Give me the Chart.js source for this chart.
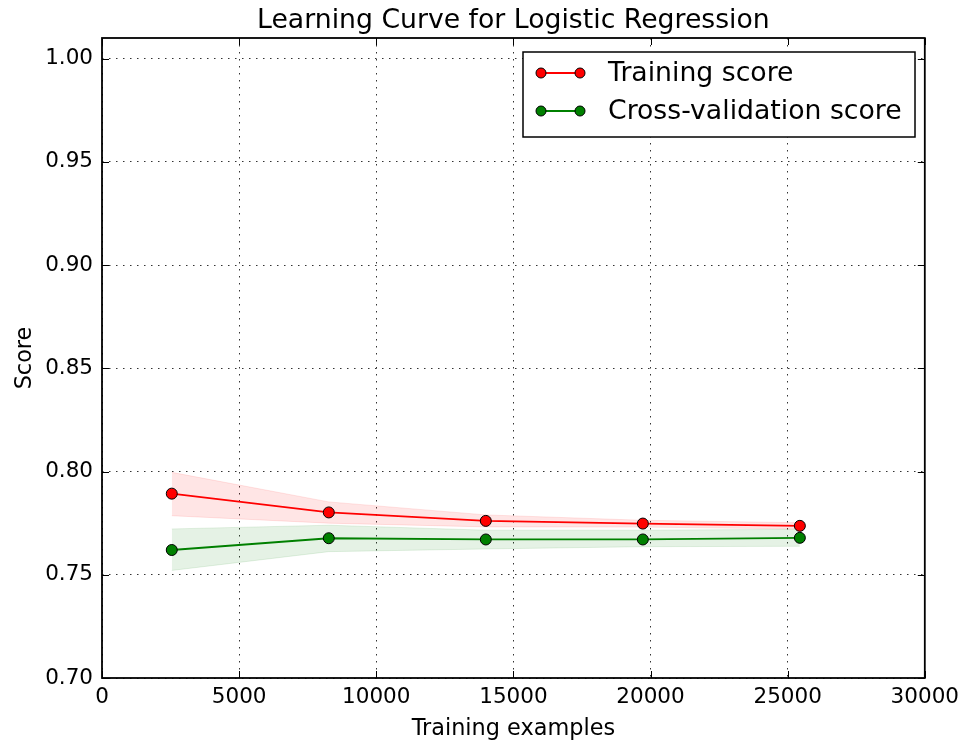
<!DOCTYPE html>
<html>
<head>
<meta charset="utf-8">
<title>Learning Curve for Logistic Regression</title>
<script src="https://cdn.jsdelivr.net/npm/chart.js@4.4.0/dist/chart.umd.min.js"></script>
<style>
  html, body { margin: 0; padding: 0; background: #fff; }
</style>
</head>
<body>
<canvas id="myChart" width="966" height="745"></canvas>
<script>
// training set sizes and scores (mean and mean ± std)
const trainSizes = [2544, 8269, 13994, 19719, 25444];
const trainMean  = [0.7893, 0.7802, 0.7761, 0.7748, 0.7737];
const trainUpper = [0.7996, 0.7853, 0.7790, 0.7764, 0.7752];
const trainLower = [0.7786, 0.7750, 0.7732, 0.7731, 0.7722];
const cvMean     = [0.7620, 0.7677, 0.7671, 0.7671, 0.7679];
const cvUpper    = [0.7722, 0.7740, 0.7716, 0.7716, 0.7720];
const cvLower    = [0.7521, 0.7612, 0.7625, 0.7636, 0.7638];

const xTicks = [0, 5000, 10000, 15000, 20000, 25000, 30000];
const yTicks = [0.70, 0.75, 0.80, 0.85, 0.90, 0.95, 1.00];

const FONT = "'DejaVu Sans', sans-serif";
const RED = '#ff0000';
const GREEN = '#008000';
const BIG = 26.7;   // title + legend
const TICK = 21.5;
const LABEL = 22.4;

const pts = ys => ys.map((y, i) => ({ x: trainSizes[i], y: y }));

function lineSet(label, ys, color) {
  return {
    label: label,
    data: pts(ys),
    borderColor: color,
    backgroundColor: color,
    borderWidth: 1.8,
    pointRadius: 5.5,
    pointBorderColor: '#000',
    pointBorderWidth: 1,
    pointBackgroundColor: color,
    fill: false,
    tension: 0
  };
}

function bandSet(ys, rgba, fill) {
  return {
    label: '',
    data: pts(ys),
    borderColor: rgba,
    backgroundColor: rgba,
    borderWidth: 1,
    pointRadius: 0,
    pointHoverRadius: 0,
    fill: fill,
    tension: 0,
    band: true
  };
}

// frame, inward ticks, title and legend in matplotlib style
const axesDecor = {
  id: 'axesDecor',
  afterDraw(chart) {
    const ctx = chart.ctx;
    const a = chart.chartArea;
    const xs = chart.scales.x, ys = chart.scales.y;
    const tl = 7;
    ctx.save();
    ctx.strokeStyle = '#000';
    ctx.lineWidth = 1;
    ctx.setLineDash([]);
    ctx.beginPath();
    xs.ticks.forEach(t => {
      const px = Math.round(xs.getPixelForValue(t.value)) + 0.5;
      ctx.moveTo(px, a.bottom); ctx.lineTo(px, a.bottom - tl);
      ctx.moveTo(px, a.top); ctx.lineTo(px, a.top + tl);
    });
    ys.ticks.forEach(t => {
      const py = Math.round(ys.getPixelForValue(t.value)) + 0.5;
      ctx.moveTo(a.left, py); ctx.lineTo(a.left + tl, py);
      ctx.moveTo(a.right, py); ctx.lineTo(a.right - tl, py);
    });
    ctx.stroke();

    ctx.lineWidth = 1.8;
    ctx.strokeRect(a.left, a.top, a.right - a.left, a.bottom - a.top);

    // title
    ctx.fillStyle = '#000';
    ctx.font = BIG + 'px ' + FONT;
    ctx.textAlign = 'center';
    ctx.textBaseline = 'alphabetic';
    ctx.fillText('Learning Curve for Logistic Regression', (a.left + a.right) / 2, 28);

    // legend
    const lx = 523, ly = 52, lw = 392, lh = 85;
    ctx.fillStyle = '#fff';
    ctx.fillRect(lx, ly, lw, lh);
    ctx.lineWidth = 1.5;
    ctx.strokeStyle = '#000';
    ctx.strokeRect(lx, ly, lw, lh);
    const entries = chart.data.datasets.filter(d => !d.band).reverse();
    entries.forEach((d, i) => {
      const cy = 73 + i * 38;
      ctx.strokeStyle = d.borderColor;
      ctx.lineWidth = 1.8;
      ctx.beginPath();
      ctx.moveTo(541, cy); ctx.lineTo(580, cy);
      ctx.stroke();
      [541, 580].forEach(cx => {
        ctx.beginPath();
        ctx.arc(cx, cy, 5, 0, Math.PI * 2);
        ctx.fillStyle = d.pointBackgroundColor;
        ctx.fill();
        ctx.lineWidth = 1;
        ctx.strokeStyle = '#000';
        ctx.stroke();
      });
      ctx.fillStyle = '#000';
      ctx.font = BIG + 'px ' + FONT;
      ctx.textAlign = 'left';
      ctx.textBaseline = 'middle';
      ctx.fillText(d.label, 608, cy + 1);
    });
    ctx.restore();
  }
};

const gridOpts = {
  color: '#333',
  lineWidth: 1,
  drawTicks: false
};

const config = {
  type: 'line',
  data: {
    datasets: [
      lineSet('Cross-validation score', cvMean, GREEN),
      lineSet('Training score', trainMean, RED),
      bandSet(cvLower, 'rgba(0,128,0,0.1)', false),
      bandSet(cvUpper, 'rgba(0,128,0,0.1)', '-1'),
      bandSet(trainLower, 'rgba(255,0,0,0.1)', false),
      bandSet(trainUpper, 'rgba(255,0,0,0.1)', '-1')
    ]
  },
  plugins: [axesDecor],
  options: {
    responsive: false,
    animation: false,
    events: [],
    layout: { padding: { left: 0, right: 40, top: 38, bottom: 0 } },
    plugins: {
      legend: { display: false },
      title: { display: false },
      tooltip: { enabled: false }
    },
    scales: {
      x: {
        type: 'linear',
        min: 0,
        max: 30000,
        afterBuildTicks: s => { s.ticks = xTicks.map(v => ({ value: v })); },
        afterFit: s => { s.height = 67; },
        grid: gridOpts,
        border: { display: false, dash: [1.5, 5.5] },
        ticks: {
          color: '#000',
          font: { family: FONT, size: TICK },
          padding: 7,
          maxRotation: 0,
          autoSkip: false,
          callback: v => String(v)
        },
        title: {
          display: true,
          text: 'Training examples',
          color: '#000',
          font: { family: FONT, size: LABEL },
          padding: { top: 0, bottom: 2 }
        }
      },
      y: {
        type: 'linear',
        min: 0.70,
        max: 1.01,
        afterBuildTicks: s => { s.ticks = yTicks.map(v => ({ value: v })); },
        afterFit: s => { s.width = 102; },
        grid: gridOpts,
        border: { display: false, dash: [1.5, 5.5] },
        ticks: {
          color: '#000',
          font: { family: FONT, size: TICK },
          padding: 9,
          autoSkip: false,
          callback: v => Number(v).toFixed(2)
        },
        title: {
          display: true,
          text: 'Score',
          color: '#000',
          font: { family: FONT, size: LABEL },
          padding: { top: 12, bottom: 0 }
        }
      }
    }
  }
};

const myChart = new Chart(document.getElementById('myChart'), config);
</script>
</body>
</html>
